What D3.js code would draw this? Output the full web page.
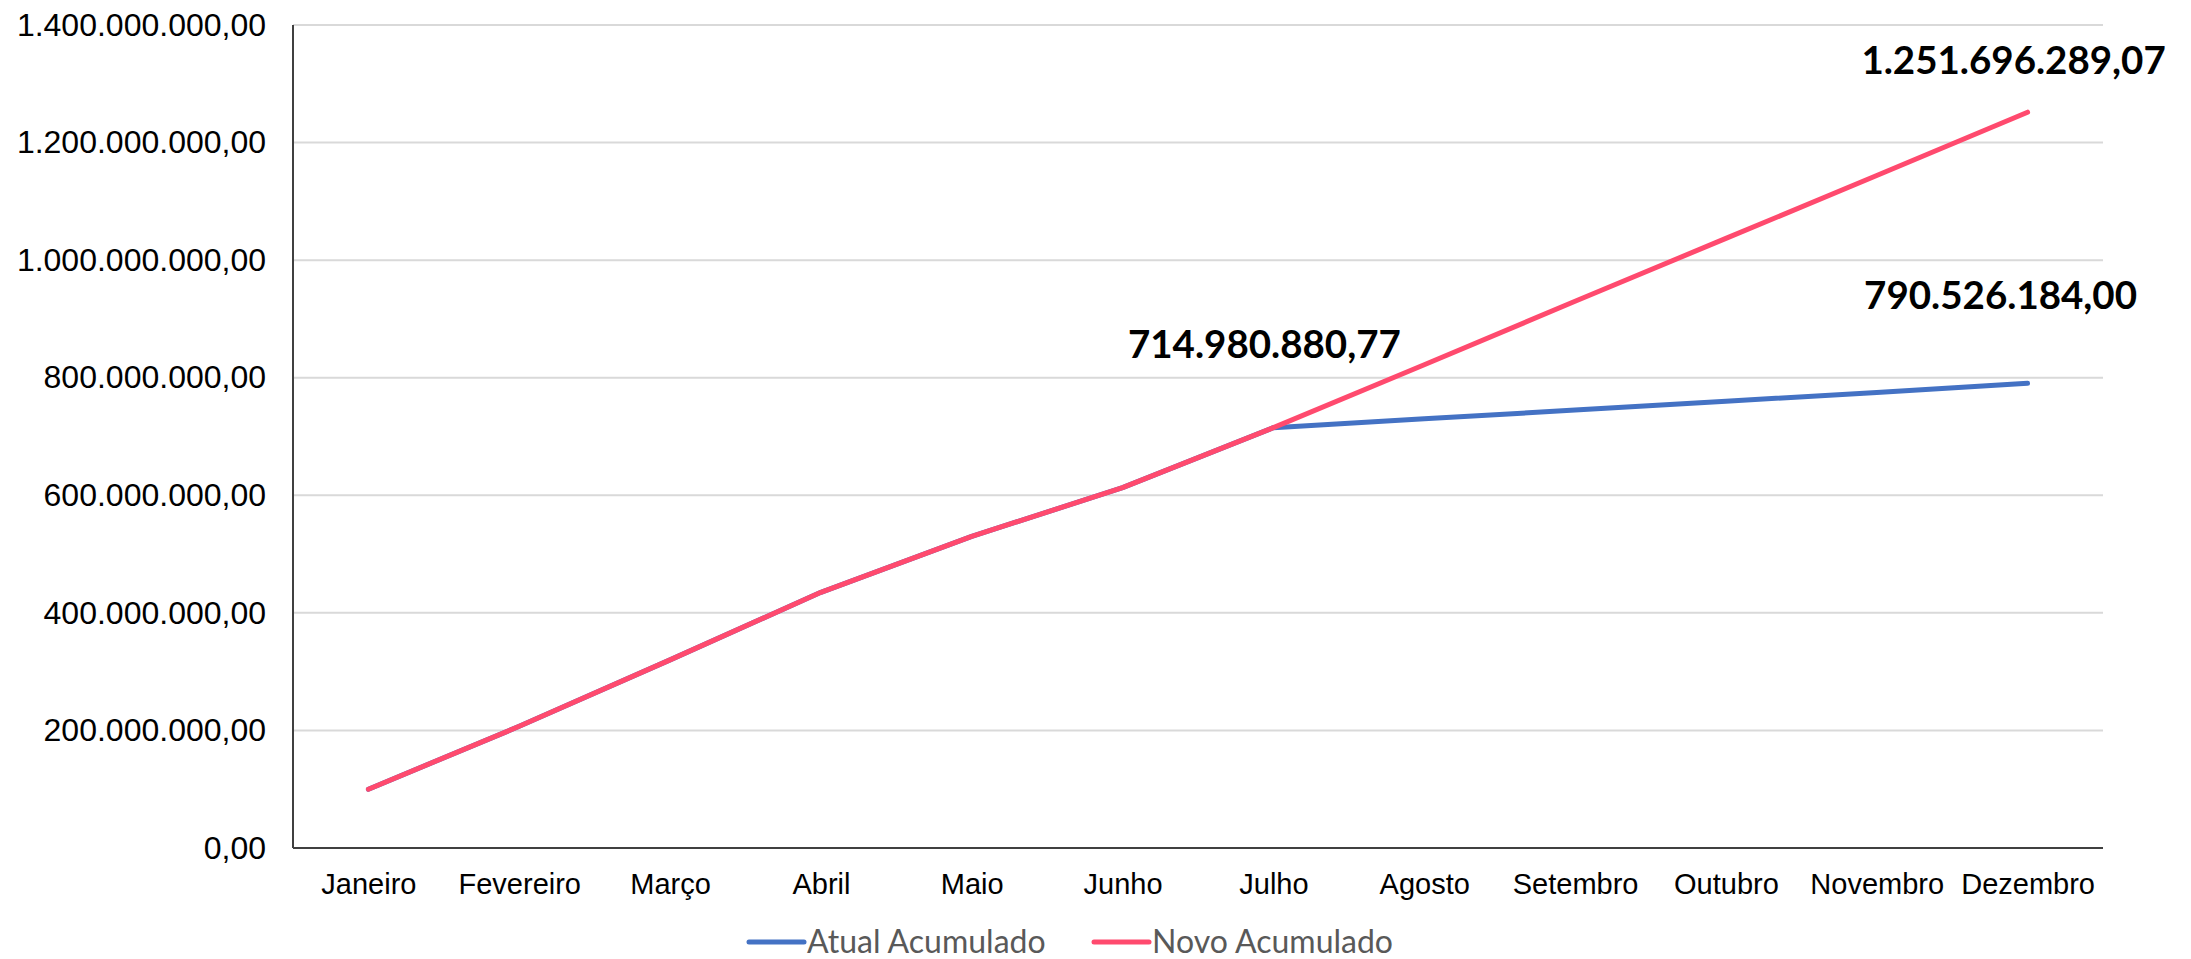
<!DOCTYPE html>
<html>
<head>
<meta charset="utf-8">
<script src="https://cdn.jsdelivr.net/npm/d3@7"></script>
<style>
  body { margin: 0; background: #fff; }
  .axis text { font-family: "Liberation Sans", Arial, sans-serif; fill: #000; }
  .axis .domain { display: none; }
</style>
</head>
<body>
<div id="chart"></div>
<script>
// chart data
var months = ["Janeiro", "Fevereiro", "Março", "Abril", "Maio", "Junho",
              "Julho", "Agosto", "Setembro", "Outubro", "Novembro", "Dezembro"];
var atualAcumulado = [100e6, 207e6, 320e6, 435e6, 530e6, 613e6,
                      714980880.77, 730e6, 745e6, 760e6, 775e6, 790526184.00];
var novoAcumulado = [100e6, 207e6, 320e6, 435e6, 530e6, 613e6,
                     714980880.77, 822e6, 930e6, 1037e6, 1144e6, 1251696289.07];
var yTicks = [0, 200e6, 400e6, 600e6, 800e6, 1000e6, 1200e6, 1400e6];
var seriesNames = ["Atual Acumulado", "Novo Acumulado"];

var W = 2191, H = 959;
var margin = { top: 25, right: 88, bottom: 111, left: 293 };
var width = W - margin.left - margin.right,
    height = H - margin.top - margin.bottom;

var br = d3.formatLocale({ decimal: ",", thousands: ".", grouping: [3], currency: ["R$", ""] });
var fmt = br.format(",.2f");

var svg = d3.select("#chart").append("svg")
    .attr("width", W)
    .attr("height", H);

var g = svg.append("g")
    .attr("transform", `translate(${margin.left},${margin.top})`);

var x = d3.scalePoint().domain(months).range([0, width]).padding(0.5);
var y = d3.scaleLinear().domain([0, 1400e6]).range([height, 0]);

// gridlines
g.append("g")
  .selectAll("line")
  .data(yTicks.slice(1))
  .enter().append("line")
    .attr("x1", 0).attr("x2", width)
    .attr("y1", d => y(d)).attr("y2", d => y(d))
    .attr("stroke", "#d9d9d9")
    .attr("stroke-width", 2);

// y axis labels
g.append("g")
    .attr("class", "axis")
    .call(d3.axisLeft(y).tickValues(yTicks).tickSize(0).tickPadding(27).tickFormat(fmt))
    .selectAll("text")
    .style("font-size", "32px");

// x axis labels
g.append("g")
    .attr("class", "axis")
    .attr("transform", `translate(0,${height})`)
    .call(d3.axisBottom(x).tickSize(0).tickPadding(25))
    .selectAll("text")
    .style("font-size", "29px");

// axis lines
g.append("line")
    .attr("x1", 0).attr("x2", 0).attr("y1", 0).attr("y2", height)
    .attr("stroke", "#404040").attr("stroke-width", 2);
g.append("line")
    .attr("x1", 0).attr("x2", width).attr("y1", height).attr("y2", height)
    .attr("stroke", "#404040").attr("stroke-width", 2);

var colors = ["#4472C4", "#FF4A6E"];
var line = d3.line()
    .x((d, i) => x(months[i]))
    .y(d => y(d));

[atualAcumulado, novoAcumulado].forEach(function(vals, k) {
  g.append("path")
    .datum(vals)
    .attr("d", line)
    .attr("fill", "none")
    .attr("stroke", colors[k])
    .attr("stroke-width", 5)
    .attr("stroke-linecap", "round")
    .attr("stroke-linejoin", "round");
});

// data labels
var labels = [
  { v: novoAcumulado[6], m: months[6], dx: -9, dy: -70 },
  { v: novoAcumulado[11], m: months[11], dx: -14, dy: -38 },
  { v: atualAcumulado[11], m: months[11], dx: -27, dy: -74 }
];
g.selectAll(".dlabel")
  .data(labels)
  .enter().append("text")
    .attr("class", "dlabel")
    .attr("x", d => x(d.m) + d.dx)
    .attr("y", d => y(d.v) + d.dy)
    .attr("text-anchor", "middle")
    .style("font-family", "Lato, sans-serif")
    .style("font-weight", "bold")
    .style("font-size", "38.5px")
    .text(d => fmt(d.v));

// legend
var legendX = [749, 1094];
var legend = svg.append("g");
seriesNames.forEach(function(name, k) {
  legend.append("line")
    .attr("x1", legendX[k]).attr("x2", legendX[k] + 55)
    .attr("y1", 942).attr("y2", 942)
    .attr("stroke", colors[k])
    .attr("stroke-width", 5)
    .attr("stroke-linecap", "round");
  legend.append("text")
    .attr("x", legendX[k] + 58)
    .attr("y", 953)
    .style("font-family", "Lato, sans-serif")
    .style("font-size", "32px")
    .attr("fill", "#595959")
    .text(name);
});
</script>
</body>
</html>
